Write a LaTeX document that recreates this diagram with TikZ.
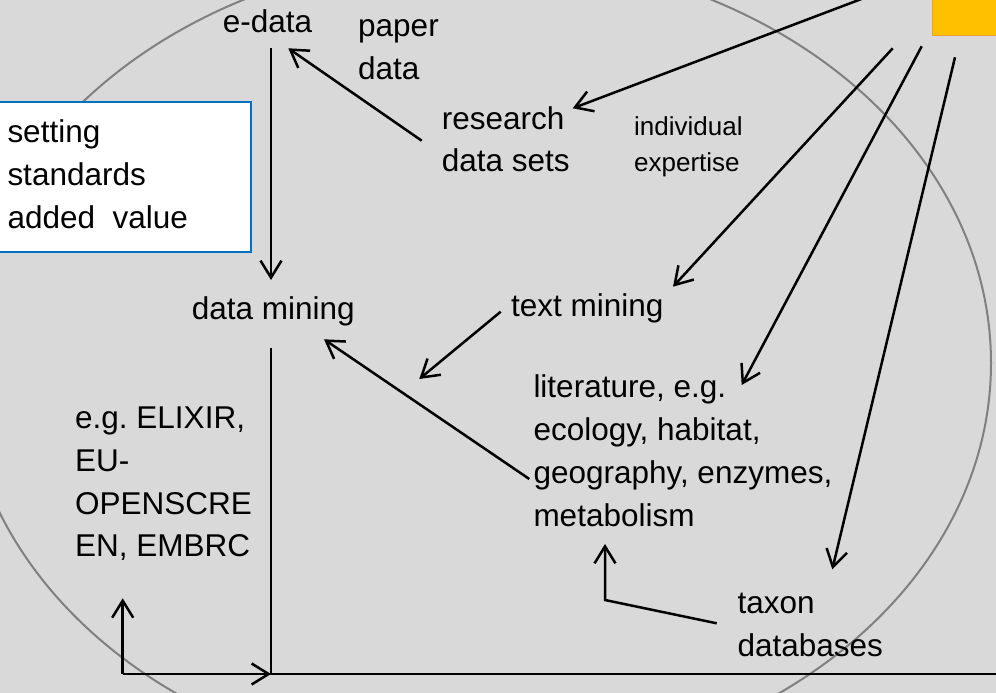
\documentclass[tikz,border=0pt]{standalone}
\usepackage{fontspec}
\setmainfont{Liberation Sans}
\usetikzlibrary{arrows.meta}
\frenchspacing

\definecolor{canvas}{HTML}{D9D9D9}
\definecolor{ring}{HTML}{808080}
\definecolor{boxblue}{HTML}{0070C0}
\definecolor{amber}{HTML}{FFC000}
\definecolor{amberedge}{HTML}{F0A030}

% multi-line labels are placed by the baseline of their last line
\tikzset{
  txt/.style={anchor=base west, align=left, inner sep=0pt,
              font=\fontsize{31.5}{42.6}\selectfont\frenchspacing},
  smalltxt/.style={txt, font=\fontsize{26}{36}\selectfont},
  link/.style={line width=2.5pt, black, line join=miter},
  arrowlink/.style={link, -{Straight Barb[length=17pt,width=21pt]}},
  stdbox/.style={draw=boxblue, fill=white, line width=2pt, anchor=north west,
                 minimum width=254pt, minimum height=150pt, inner sep=0pt},
  sourcebox/.style={draw=amberedge, fill=amber, line width=1pt, anchor=south west,
                    minimum width=80pt, minimum height=60pt, inner sep=0pt},
}

\begin{document}
\begin{tikzpicture}[x=1pt,y=-1pt]
  \useasboundingbox (0,0) rectangle (996,693);
  \clip (0,0) rectangle (996,693);
  \fill[canvas] (0,0) rectangle (996,693);

  % the big outline ring
  \draw[ring, line width=2pt] (477.5,363) ellipse [x radius=513.5pt, y radius=408pt];

  % boxes
  \node[sourcebox] (source) at (932,36) {};
  \node[stdbox] (stdbox) at (-4,100.7) {};

  % labels
  \node[txt] (stdtext) at (7.3,228) {setting\\standards\\added\ \ value};
  \node[txt] (edata) at (222.7,33) {e-data};
  \node[txt] (paper) at (358,79.5) {paper\\data};
  \node[txt] (rds) at (441.7,171.7) {research\\data sets};
  \node[smalltxt] (expertise) at (634,171.5) {individual\\expertise};
  \node[txt] (dmining) at (191.7,319.3) {data mining};
  \node[txt] (tmining) at (511,316) {text mining};
  \node[txt, font=\fontsize{31.5}{43}\selectfont] (lit) at (533.3,526.5)
    {literature, e.g.\\ecology, habitat,\\geography, enzymes,\\metabolism};
  \node[txt] (infra) at (75,556.7) {e.g.\ ELIXIR,\\EU-\\OPENSCRE\\EN, EMBRC};
  \node[txt] (taxon) at (737.3,656) {taxon\\databases};

  % connector end points
  \coordinate (srcR) at (905,-17.5);
  \coordinate (rdsIn) at (572.7,108.3);
  \coordinate (srcA) at (892.7,48.3);
  \coordinate (tmIn) at (673,286.7);
  \coordinate (srcB) at (921.7,46.3);
  \coordinate (litIn) at (741.7,385);
  \coordinate (srcC) at (955,57.3);
  \coordinate (taxIn) at (832.3,569.3);
  \coordinate (rdsOut) at (421.7,140.7);
  \coordinate (edIn) at (288.3,48.3);
  \coordinate (edOut) at (271,48);
  \coordinate (dmIn) at (271,280);
  \coordinate (tmOut) at (500.7,311.7);
  \coordinate (tmTip) at (419.3,379);
  \coordinate (litOut) at (529.3,479);
  \coordinate (dmIn2) at (324,339.3);
  \coordinate (dmOut) at (271,347.7);
  \coordinate (joint) at (271,674);
  \coordinate (railEnd) at (1000,674);
  \coordinate (corner) at (122.7,674);
  \coordinate (infraIn) at (122.7,598.3);
  \coordinate (taxOut) at (716.7,623.3);
  \coordinate (bend) at (605,600);
  \coordinate (metIn) at (605,544);

  % connectors
  \draw[arrowlink] (srcR) -- (rdsIn);
  \draw[arrowlink] (srcA) -- (tmIn);
  \draw[arrowlink] (srcB) -- (litIn);
  \draw[arrowlink] (srcC) -- (taxIn);
  \draw[arrowlink] (rdsOut) -- (edIn);
  \draw[arrowlink] (edOut) -- (dmIn);
  \draw[arrowlink] (tmOut) -- (tmTip);
  \draw[arrowlink] (litOut) -- (dmIn2);
  \draw[link] (dmOut) -- (joint) -- (railEnd);
  \draw[arrowlink] (corner) -- (joint);
  \draw[arrowlink] (corner) -- (infraIn);
  \draw[arrowlink] (taxOut) -- (bend) -- (metIn);
\end{tikzpicture}
\end{document}
